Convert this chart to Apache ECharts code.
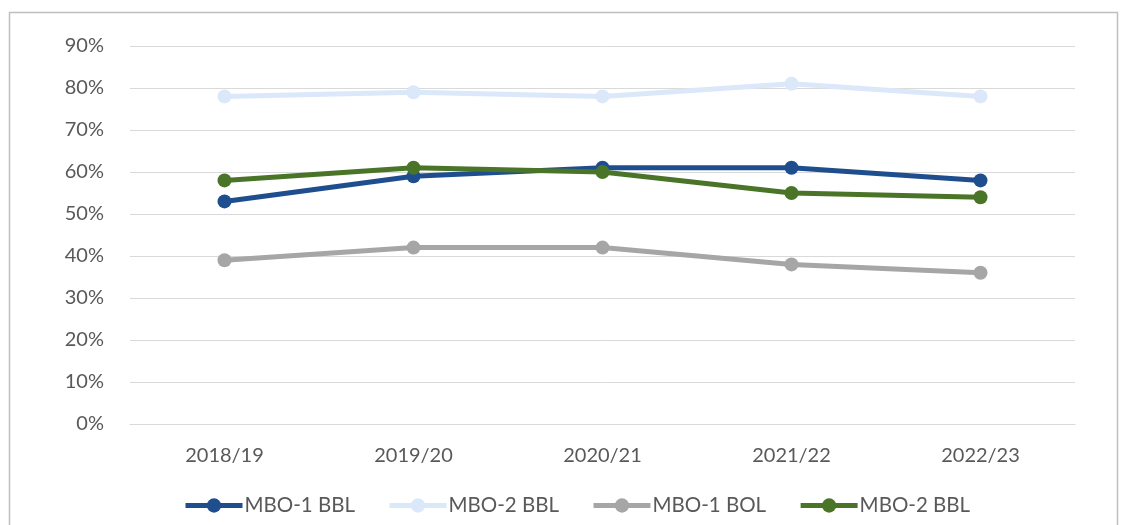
<!DOCTYPE html>
<html><head><meta charset="utf-8">
<script src="https://cdn.jsdelivr.net/npm/echarts@6/dist/echarts.min.js"></script>
<style>html,body{margin:0;padding:0;background:#fff}#c{width:1131px;height:525px}</style>
</head><body><div id="c"></div>
<script>
const categories = ['2018/19','2019/20','2020/21','2021/22','2022/23'];
const seriesNames = ['MBO-1 BBL','MBO-2 BBL','MBO-1 BOL','MBO-2 BBL '];
const mbo1BBL = [53, 59, 61, 61, 58];
const mbo2BBL = [78, 79, 78, 81, 78];
const mbo1BOL = [39, 42, 42, 38, 36];
const mbo2BBLb = [58, 61, 60, 55, 54];
const yTicks = [0,10,20,30,40,50,60,70,80,90];

const colors = ['#1F4E8E','#DAE8FA','#A6A6A6','#4A7529'];
const values = [mbo1BBL, mbo2BBL, mbo1BOL, mbo2BBLb];
const font = 'Lato, "Open Sans", sans-serif';

const chart = echarts.init(document.getElementById('c'));
chart.setOption({
  animation:false,
  graphic:[{type:'rect',shape:{x:9.5,y:12.5,width:1108,height:530},style:{fill:'none',stroke:'#BFBFBF',lineWidth:1.5},silent:true}],
  grid:{left:130,right:56,top:46,bottom:101},
  legend:{
    bottom:4,left:178,itemWidth:57,itemHeight:18,itemGap:32,
    data:seriesNames,
    formatter:n=>n.trim(),
    lineStyle:{width:5},
    textStyle:{fontFamily:font,fontSize:20.5,color:'#595959',padding:[0,0,0,-3]}
  },
  xAxis:{
    type:'category',data:categories,boundaryGap:true,
    axisLine:{show:true,lineStyle:{color:'#D9D9D9',width:1}},
    axisTick:{show:false},
    axisLabel:{fontFamily:font,fontSize:20,color:'#595959',margin:22}
  },
  yAxis:{
    type:'value',min:0,max:90,interval:10,
    axisLine:{show:false},axisTick:{show:false},
    splitLine:{lineStyle:{color:'#D9D9D9',width:1}},
    axisLabel:{fontFamily:font,fontSize:20,color:'#595959',margin:26,formatter:v=>yTicks.includes(v)?v+'%':''}
  },
  series:seriesNames.map((n,i)=>({
    name:n,type:'line',data:values[i],
    symbol:'circle',symbolSize:14,
    lineStyle:{color:colors[i],width:5},
    itemStyle:{color:colors[i]},
    z:2+i
  }))
});
</script></body></html>
